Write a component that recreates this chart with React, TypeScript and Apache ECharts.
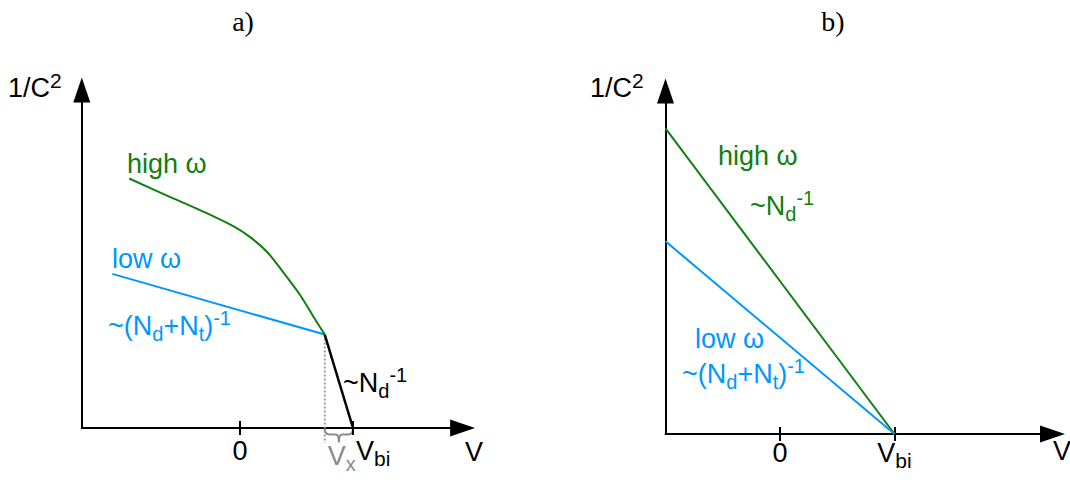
import React, { useEffect, useRef } from 'react';
import * as echarts from 'echarts';

// ---- data (V in units of the built-in voltage, 1/C² in arbitrary units) ----
const vbi = 1;
const vx = 0.75;
const tickValues = [0, vbi];

// panel a: trap-affected Mott–Schottky curves
const highOmegaA: number[][] = [
  [-0.98, 2.51], [-0.65, 2.34], [-0.35, 2.19], [-0.06, 2.03], [0.09, 1.92],
  [0.24, 1.77], [0.38, 1.57], [0.53, 1.34], [0.65, 1.12], [0.75, 0.94],
];
const lowOmegaA: number[][] = [[-1.13, 1.55], [0.75, 0.94]];
const depletionA: number[][] = [[0.75, 0.94], [1.0, 0]];
const vxGuideA: number[][] = [[0.75, 0.94], [0.75, -0.15]];

// panel b: ideal straight lines meeting at Vbi
const highOmegaB: number[][] = [[-1.0, 3.03], [1.0, 0]];
const lowOmegaB: number[][] = [[-1.0, 1.91], [1.0, 0]];

const rangeA = { xMin: -1.4, xMax: 1.97, yMax: 3.4 };
const rangeB = { xMin: -1.0, xMax: 2.38, yMax: 3.4 };

const GREEN = '#0f7f0f';
const BLUE = '#0096ff';
const GRAY = '#8a8a8a';
const BLACK = '#000';
const SANS = '"Liberation Sans", Arial, sans-serif';
const SERIF = '"Liberation Serif", "DejaVu Serif", serif';
const FS = 27;

// brace outline (28 wide, 14 deep)
echarts.graphic.registerShape(
  'brace',
  echarts.graphic.extendPath('M0 0 Q0 6 5 6 L11 6 Q14 6 14 14 Q14 6 17 6 L23 6 Q28 6 28 0', {}) as any
);

function richText(color: string) {
  return {
    m: { fontSize: FS, lineHeight: 36, fontFamily: SANS, fill: color },
    sub: { fontSize: 20, lineHeight: 19, verticalAlign: 'bottom', fontFamily: SANS, fill: color },
    sup: { fontSize: 20, lineHeight: 25, verticalAlign: 'top', fontFamily: SANS, fill: color },
    sup2: { fontSize: 21, lineHeight: 24, verticalAlign: 'top', fontFamily: SANS, fill: color },
  };
}

function textEl(x: number, y: number, text: string, color: string) {
  return {
    type: 'text',
    x,
    y,
    silent: true,
    style: {
      text,
      fill: color,
      fontFamily: SANS,
      fontSize: FS,
      align: 'left',
      textAlign: 'left',
      verticalAlign: 'top',
      textVerticalAlign: 'top',
      rich: richText(color),
    },
  };
}

const axisRich = {
  m: { fontSize: FS, lineHeight: 36, fontFamily: SANS, color: BLACK },
  mp: { fontSize: FS, lineHeight: 36, fontFamily: SANS, color: BLACK, padding: [0, 0, 0, 3] },
  s: { fontSize: 21, lineHeight: 19, verticalAlign: 'bottom', fontFamily: SANS, color: BLACK },
};

const tickLabel = (v: number) => (v === 0 ? '{m|0}' : '{m|V}{s|bi}');
const sideTickLabel = (v: number) => (v === 0 ? '{m|0}' : '{mp|V}{s|bi}');

function xAxes(
  gridIndex: number,
  r: { xMin: number; xMax: number },
  mainLabels: number[],
  sideLabels: number[],
  sideAlign: string,
  margin: number
) {
  const base = {
    type: 'value',
    gridIndex,
    position: 'bottom',
    min: r.xMin,
    max: r.xMax,
    splitLine: { show: false },
  };
  return [
    {
      ...base,
      axisLine: {
        show: true,
        onZero: false,
        symbol: ['none', 'triangle'],
        symbolSize: [17, 25],
        lineStyle: { color: BLACK, width: 2 },
      },
      axisTick: { show: true, customValues: tickValues, length: 7, lineStyle: { color: BLACK, width: 2 } },
      axisLabel: {
        show: mainLabels.length > 0,
        customValues: mainLabels,
        formatter: tickLabel,
        rich: axisRich,
        margin,
        color: BLACK,
      },
    },
    {
      ...base,
      axisLine: { show: false, onZero: false },
      axisTick: { show: true, inside: true, customValues: tickValues, length: 7, lineStyle: { color: BLACK, width: 2 } },
      axisLabel: {
        show: sideLabels.length > 0,
        customValues: sideLabels,
        formatter: sideTickLabel,
        rich: axisRich,
        margin,
        align: sideAlign,
        color: BLACK,
      },
    },
  ];
}

function yAxis(gridIndex: number, yMax: number) {
  return {
    type: 'value',
    gridIndex,
    min: 0,
    max: yMax,
    axisLine: {
      show: true,
      onZero: false,
      symbol: ['none', 'triangle'],
      symbolSize: [17, 25],
      lineStyle: { color: BLACK, width: 2 },
    },
    axisTick: { show: false },
    axisLabel: { show: false },
    splitLine: { show: false },
  };
}

function lineSeries(data: number[][], xAxisIndex: number, yAxisIndex: number, color: string, extra: any = {}) {
  return {
    type: 'line',
    data,
    xAxisIndex,
    yAxisIndex,
    symbol: 'none',
    showSymbol: false,
    silent: true,
    lineStyle: { color, width: 2 },
    ...extra,
  };
}

export default function App() {
  const ref = useRef<HTMLDivElement>(null);

  useEffect(() => {
    if (!ref.current) return;
    const chart = echarts.init(ref.current, undefined, { renderer: 'svg' });

    chart.setOption({
      animation: false,
      backgroundColor: '#fff',
      grid: [
        { left: 81.8, top: 90, width: 380.8, height: 338 },
        { left: 665.5, top: 91, width: 387, height: 343 },
      ],
      xAxis: [
        ...xAxes(0, rangeA, [0], [vbi], 'left', 5),
        ...xAxes(1, rangeB, tickValues, [], 'center', 1),
      ],
      yAxis: [yAxis(0, rangeA.yMax), yAxis(1, rangeB.yMax)],
      series: [
        lineSeries(vxGuideA, 0, 0, '#999', { clip: false, lineStyle: { color: '#999', width: 2, type: [2, 2] } }),
        lineSeries(lowOmegaA, 0, 0, BLUE),
        lineSeries(highOmegaA, 0, 0, GREEN, { smooth: 0.35 }),
        lineSeries(depletionA, 0, 0, BLACK, { lineStyle: { color: BLACK, width: 2.5 } }),
        lineSeries(highOmegaB, 2, 1, GREEN),
        lineSeries(lowOmegaB, 2, 1, BLUE),
      ],
    });

    // annotations anchored to the data positions of Vx and Vbi
    const pVx = chart.convertToPixel({ gridIndex: 0 }, [vx, 0]) as number[];
    const pVbi = chart.convertToPixel({ gridIndex: 0 }, [vbi, 0]) as number[];
    const braceW = pVbi[0] - pVx[0];
    const braceMid = (pVx[0] + pVbi[0]) / 2;

    const title = (x: number, text: string) => ({
      type: 'text', x, y: 21, silent: true,
      style: {
        text, fill: BLACK, fontFamily: SERIF, fontSize: 28,
        align: 'center', textAlign: 'center', verticalAlign: 'middle', textVerticalAlign: 'middle',
      },
    });

    chart.setOption({
      graphic: [
        title(243, 'a)'),
        title(833, 'b)'),
        // panel a
        textEl(8, 69.6, '{m|1/C}{sup2|2}', BLACK),
        textEl(127, 145.6, '{m|high ω}', GREEN),
        textEl(112, 240.6, '{m|low ω}', BLUE),
        textEl(108, 307.6, '{m|~(N}{sub|d}{m|+N}{sub|t}{m|)}{sup|-1}', BLUE),
        textEl(343, 364.6, '{m|~N}{sub|d}{sup|-1}', BLACK),
        textEl(465, 433.6, '{m|V}', BLACK),
        textEl(braceMid - 11, 437.6, '{m|V}{sub|x}', GRAY),
        {
          type: 'brace',
          x: pVx[0],
          y: pVx[1] + 0.5,
          scaleX: braceW / 28,
          scaleY: 1,
          silent: true,
          style: { stroke: GRAY, fill: 'none', lineWidth: 2 },
        },
        // panel b
        textEl(590, 69.6, '{m|1/C}{sup2|2}', BLACK),
        textEl(718, 137.6, '{m|high ω}', GREEN),
        textEl(750, 187.6, '{m|~N}{sub|d}{sup|-1}', GREEN),
        textEl(695, 320.6, '{m|low ω}', BLUE),
        textEl(682, 355.6, '{m|~(N}{sub|d}{m|+N}{sub|t}{m|)}{sup|-1}', BLUE),
        textEl(1053, 432.6, '{m|V}', BLACK),
      ],
    });

    return () => chart.dispose();
  }, []);

  return <div ref={ref} style={{ position: 'absolute', left: 0, top: 0, width: 1070, height: 482 }} />;
}
